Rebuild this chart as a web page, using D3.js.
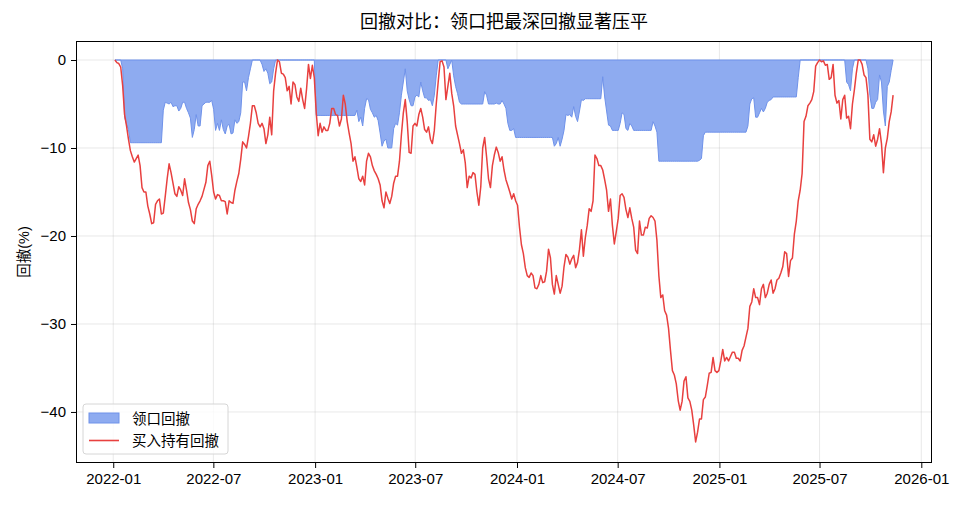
<!DOCTYPE html>
<html>
<head>
  <meta charset="utf-8">
  <script src="https://cdnjs.cloudflare.com/ajax/libs/d3/7.8.5/d3.min.js"></script>
  <style>
    body { margin: 0; background: #fff; }
    svg text { font-family: "Liberation Sans", "Noto Sans CJK SC", sans-serif; fill: #000; }
    .grid-line { stroke: #b0b0b0; stroke-opacity: 0.35; stroke-width: 0.8; }
    .tick-label { font-size: 15px; }
  </style>
</head>
<body>
  <div id="chart"></div>
  <script>
    // half-weekly samples (every 84 hours) from 2022-01-04, values in %
    const startDate = "2022-01-04";
    const stepHours = 84;

    const buyHold = [
      0, -0.3, -0.4, -0.8, -2.9, -6.2, -7.5, -9, -10.3, -11, -11.6, -11.2, -10.8, -12, -14.5, -15, -15, -16.6, -17.5, -18.6,
      -18.5, -16.4, -16, -15.8, -17.5, -17.4, -15.5, -13.5, -11.8, -12.8, -14, -15.2, -15.5, -14.4, -14.8, -15.4, -13.5, -14.8, -16.2, -17,
      -18.3, -18.6, -16.9, -16.4, -16, -15.5, -14.7, -13.9, -12, -11.5, -13.1, -15, -15.8, -15.3, -15.4, -16, -16, -16.1, -17.5, -16,
      -16.2, -16.3, -14.8, -13.8, -12.9, -11.3, -9.3, -9.6, -10, -8.7, -7.2, -5.2, -5.2, -6, -7.2, -7.6, -7.2, -7.8, -9.5, -8.5,
      -6.5, -8.5, -3.5, -1.5, 0, -0.2, -1.5, -1.6, -2, -3.5, -3, -5, -2.5, -2.8, -4.2, -4.7, -3.2, -4.5, -5.5, -3.3,
      -0.5, -2.1, -0.6, -2, -6, -8.6, -7.2, -8.2, -7.6, -8, -8, -7.2, -5.5, -5.5, -6.2, -6.3, -7.5, -6.7, -4, -5,
      -7, -8.3, -9.5, -11.5, -11, -12.2, -13.5, -13.8, -13.2, -14.2, -11.5, -10.6, -11, -12, -12.6, -13, -13.5, -14.2, -16, -16.8,
      -15, -15.7, -16.3, -15.5, -14, -13.2, -13.2, -11.5, -8.5, -6, -4.5, -7, -10.5, -10.6, -7.5, -7.2, -7.5, -6.2, -5.5, -6.5,
      -7.9, -8.2, -7.6, -9, -9.5, -8, -5, -2.5, -0.2, -0.1, -0.8, -4.5, -3, -1.5, -3.8, -5.2, -7.5, -8.5, -9.5, -10.6,
      -10.2, -11.7, -14.5, -13.2, -13.4, -12.8, -13, -15, -16.5, -14.4, -10, -8.8, -11, -13.5, -14.5, -12, -10.8, -9.9, -10.5, -11.5,
      -11, -12.5, -13.6, -14.3, -15, -15.8, -15.2, -16, -16.5, -19, -21, -22, -23.6, -24.5, -24.7, -24.2, -24.5, -25.9, -26, -25.5,
      -24.5, -25.3, -25.2, -24, -21.5, -22.5, -25.5, -26.6, -24.5, -25.5, -26.5, -25.7, -23.5, -22.1, -22.4, -23.2, -22.6, -22.2, -23.6, -23,
      -21.5, -19.3, -22.3, -20.2, -18.8, -16.9, -17.2, -16, -10.8, -11.2, -12, -12, -12.5, -13.6, -14.8, -17.2, -15.8, -18.8, -20.9, -19.5,
      -18, -15.4, -15.2, -15.6, -17, -17.9, -16.8, -18, -19, -21.6, -22, -18.3, -19.9, -19.9, -19, -19.1, -18, -17.7, -17.9, -18.3,
      -20.5, -24.5, -27, -26.7, -28.5, -29, -30.5, -33, -35.3, -35.8, -36.8, -38.7, -39.8, -38.8, -36.5, -36, -38.4, -38.8, -39.8, -41.5,
      -43.4, -42.3, -40.8, -40.8, -38.6, -38.3, -37, -35.6, -35.5, -33.8, -35.3, -35.5, -35.3, -34.2, -32.9, -34.2, -33.8, -34.2, -33.7, -33.2,
      -33.2, -33.9, -33.9, -34.2, -33, -32.5, -31.5, -30.5, -28, -27.5, -26, -27, -27, -27.8, -26, -25.5, -27, -26.5, -25.5, -25,
      -26.5, -26, -25, -24.8, -24.2, -23.5, -21.8, -22, -24.6, -22.8, -22.5, -19.8, -18.3, -16, -14.8, -12.9, -7, -6.4, -5.2, -4.9,
      -4.5, -3.6, -0.7, -0.3, 0, -0.2, -0.1, -0.6, -0.5, -2.2, -2, -0.5, -4, -4.9, -4.6, -6.7, -4.5, -4, -6.6, -6.4,
      -7.8, -5, -3.4, -1.5, 0, 0, -0.5, -1.7, -2, -4, -9, -9.3, -8.5, -9.8, -9, -7.8, -9.5, -12.8, -10, -8.9,
      -7, -5.9, -4
    ];

    const collar = [
      0, 0, 0, 0, -1, -6.5, -7.3, -7.9, -9.4, -9.4, -9.4, -9.4, -9.4, -9.4, -9.4, -9.4, -9.4, -9.4, -9.4, -9.4,
      -9.4, -9.4, -9.4, -9.4, -9.4, -5.7, -4.8, -4.9, -5, -4.8, -5.3, -5.2, -5.2, -5.8, -5.5, -4.8, -4.8, -5.5, -6, -6.6,
      -8.8, -7.9, -6.2, -7.5, -7.5, -5.2, -5, -4.8, -4.8, -4.8, -4.6, -5.6, -8, -7.2, -8, -6.8, -7.9, -8.4, -7.5, -7.3,
      -8.4, -8.3, -6.8, -7.2, -7, -6, -2.5, -2.5, -3.5, -2, -1, 0, 0, 0, 0, 0, -0.5, -1.3, -1, -1.5,
      -2.7, -2.5, -1, 0, 0, 0, 0, 0, 0, 0, 0, 0, 0, 0, 0, 0, 0, 0, 0, 0,
      0, 0, 0, 0, -6.3, -6.3, -6.3, -6.3, -6.3, -6.3, -6.3, -6.3, -6.3, -6.3, -6.3, -6.3, -6.3, -6.3, -6.3, -6.3,
      -6.3, -6.3, -6.3, -6.3, -6.3, -5.7, -7, -6.5, -7.5, -5.5, -4.4, -4.5, -5.6, -6, -6.5, -6.3, -6.9, -8.3, -9.8, -9.2,
      -9, -10, -10, -10, -7.8, -7.2, -7.4, -6, -4, -2.5, -1, -3.5, -4.5, -5.2, -5.2, -4.2, -4, -4.2, -2.5, -3.5,
      -4.3, -4.3, -4.6, -4.5, -5.2, -4, -1.8, 0, 0, 0, 0, 0, -1, -0.5, 0, -1.8, -3, -3.8, -4.8, -5,
      -5, -5, -5, -5, -5, -5, -5, -5, -5, -5, -5, -3.6, -4, -5, -5, -5, -5, -4.9, -5, -5,
      -4.6, -5, -5.5, -7.2, -8, -8, -7.8, -8.8, -8.8, -8.8, -8.8, -8.8, -8.8, -8.8, -8.8, -8.8, -8.8, -8.8, -8.8, -8.8,
      -8.8, -8.8, -8.8, -8.8, -8.8, -8.8, -8.8, -9.8, -9.5, -8.8, -9.8, -9, -8, -6.2, -6.3, -6.2, -6.5, -5.3, -6.4, -7,
      -5.8, -4.5, -4.6, -4.4, -4.4, -4.4, -4.4, -4.4, -4.4, -4.4, -4.4, -4.4, -1.9, -4.2, -5.8, -7.4, -7.5, -8, -8, -8,
      -8, -7.2, -6, -6.2, -7.8, -8, -7.2, -7.5, -8, -8, -8, -8, -8, -8, -8, -8, -8, -8, -7, -7.5,
      -8.2, -11.5, -11.5, -11.5, -11.5, -11.5, -11.5, -11.5, -11.5, -11.5, -11.5, -11.5, -11.5, -11.5, -11.5, -11.5, -11.5, -11.5, -11.5, -11.5,
      -11.5, -11.5, -11.4, -11.2, -8.6, -8.2, -8.2, -8.2, -8.2, -8.2, -8.2, -8.2, -8.2, -8.2, -8.2, -8.2, -8.2, -8.2, -8.2, -8.2,
      -8.2, -8.2, -8.2, -8.2, -8.2, -8.2, -8.2, -7.5, -5, -4.4, -4.3, -6.5, -6.5, -6, -5.5, -5.9, -5.5, -4.8, -4.6, -4.5,
      -4.2, -4.2, -4.2, -4.2, -4.2, -4.2, -4.2, -4.2, -4.2, -4.2, -4.2, -4.2, -4.2, -2, 0, 0, 0, 0, 0, 0,
      0, 0, 0, 0, 0, 0, 0, 0, 0, 0, 0, 0, 0, 0, 0, 0, 0, 0, -2.5, -2.8,
      -3.5, -1, 0, 0, 0, 0, 0, 0, 0, -1, -4, -5.5, -5.5, -4.8, -4.5, -1.7, -2.5, -5.8, -7.5, -3,
      -2.5, -1.2, 0
    ];

    const yTicks = [0, -10, -20, -30, -40];
    const yDomain = [-45.8, 2.16];
    const titleText = "回撤对比：领口把最深回撤显著压平";
    const yLabel = "回撤(%)";
    const seriesNames = ["领口回撤", "买入持有回撤"];

    const W = 968, H = 505;
    const plot = {left: 76, right: 932, top: 41, bottom: 463};

    const t0 = d3.utcParse("%Y-%m-%d")(startDate);
    const dates = buyHold.map((_, i) => d3.utcHour.offset(t0, i * stepHours));
    const rows = dates.map((d, i) => ({date: d, hold: buyHold[i], collar: collar[i]}));

    const tFirst = dates[0], tLast = dates[dates.length - 1];
    const pad = (tLast - tFirst) * 0.05;

    const x = d3.scaleUtc()
      .domain([new Date(+tFirst - pad), new Date(+tLast + pad)])
      .range([plot.left, plot.right]);

    const y = d3.scaleLinear()
      .domain(yDomain)
      .range([plot.bottom, plot.top]);

    const svg = d3.select("#chart")
      .append("svg")
        .attr("width", W)
        .attr("height", H);

    svg.append("defs").append("clipPath")
      .attr("id", "clip")
      .append("rect")
        .attr("x", plot.left)
        .attr("y", plot.top)
        .attr("width", plot.right - plot.left)
        .attr("height", plot.bottom - plot.top);

    // grid
    const xTicks = x.ticks(d3.utcMonth.every(6));
    svg.append("g").selectAll("line")
      .data(xTicks)
      .join("line")
        .attr("class", "grid-line")
        .attr("x1", d => x(d)).attr("x2", d => x(d))
        .attr("y1", plot.top).attr("y2", plot.bottom);

    svg.append("g").selectAll("line")
      .data(yTicks)
      .join("line")
        .attr("class", "grid-line")
        .attr("x1", plot.left).attr("x2", plot.right)
        .attr("y1", d => y(d)).attr("y2", d => y(d));

    const g = svg.append("g").attr("clip-path", "url(#clip)");

    // collar drawdown area
    const area = d3.area()
      .x(d => x(d.date))
      .y0(y(0))
      .y1(d => y(d.collar));

    g.append("path")
      .datum(rows)
      .attr("fill", "#8eabf0")
      .attr("d", area);

    g.append("path")
      .datum(rows)
      .attr("fill", "none")
      .attr("stroke", "#6f92ea")
      .attr("stroke-width", 1)
      .attr("d", d3.line().x(d => x(d.date)).y(d => y(d.collar)));

    g.append("line")
      .attr("x1", x(tFirst)).attr("x2", x(tLast))
      .attr("y1", y(0)).attr("y2", y(0))
      .attr("stroke", "#6f92ea")
      .attr("stroke-width", 1);

    // buy & hold drawdown line
    g.append("path")
      .datum(rows)
      .attr("fill", "none")
      .attr("stroke", "#e8403f")
      .attr("stroke-width", 1.5)
      .attr("stroke-linejoin", "round")
      .attr("d", d3.line().x(d => x(d.date)).y(d => y(d.hold)));

    // axes
    const xAxis = svg.append("g")
      .attr("transform", `translate(0,${plot.bottom})`)
      .call(d3.axisBottom(x).tickValues(xTicks).tickFormat(d3.utcFormat("%Y-%m")).tickSize(5).tickPadding(5));

    const yAxis = svg.append("g")
      .attr("transform", `translate(${plot.left},0)`)
      .call(d3.axisLeft(y).tickValues(yTicks).tickFormat(d => d < 0 ? "\u2212" + Math.abs(d) : d).tickSize(5).tickPadding(5));

    [xAxis, yAxis].forEach(a => {
      a.select(".domain").remove();
      a.selectAll(".tick line").attr("stroke", "#000").attr("stroke-width", 1);
      a.selectAll(".tick text").attr("class", "tick-label").attr("fill", "#000");
    });

    svg.append("rect")
      .attr("x", plot.left + 0.5).attr("y", plot.top + 0.5)
      .attr("width", plot.right - plot.left - 1)
      .attr("height", plot.bottom - plot.top - 1)
      .attr("fill", "none")
      .attr("stroke", "#000")
      .attr("stroke-width", 1);

    // title and axis label
    svg.append("text")
      .attr("x", (plot.left + plot.right) / 2)
      .attr("y", 28)
      .attr("text-anchor", "middle")
      .style("font-size", "18px")
      .text(titleText);

    svg.append("text")
      .attr("transform", `translate(29,${(plot.top + plot.bottom) / 2}) rotate(-90)`)
      .attr("text-anchor", "middle")
      .style("font-size", "14.5px")
      .text(yLabel);

    // legend
    const legend = svg.append("g").attr("transform", "translate(83,404)");
    legend.append("rect")
      .attr("width", 145).attr("height", 50)
      .attr("rx", 3)
      .attr("fill", "#fff").attr("fill-opacity", 0.8)
      .attr("stroke", "#d6d6d6");

    legend.append("rect")
      .attr("x", 6).attr("y", 9)
      .attr("width", 30).attr("height", 10)
      .attr("fill", "#8eabf0")
      .attr("stroke", "#6f92ea");

    legend.append("line")
      .attr("x1", 6).attr("x2", 36)
      .attr("y1", 36.5).attr("y2", 36.5)
      .attr("stroke", "#e8403f")
      .attr("stroke-width", 1.6);

    legend.selectAll(".legend-label")
      .data(seriesNames)
      .join("text")
        .attr("class", "legend-label")
        .attr("x", 49)
        .attr("y", (d, i) => 15 + i * 22)
        .attr("dy", "0.35em")
        .style("font-size", "14.5px")
        .text(d => d);
  </script>
</body>
</html>
